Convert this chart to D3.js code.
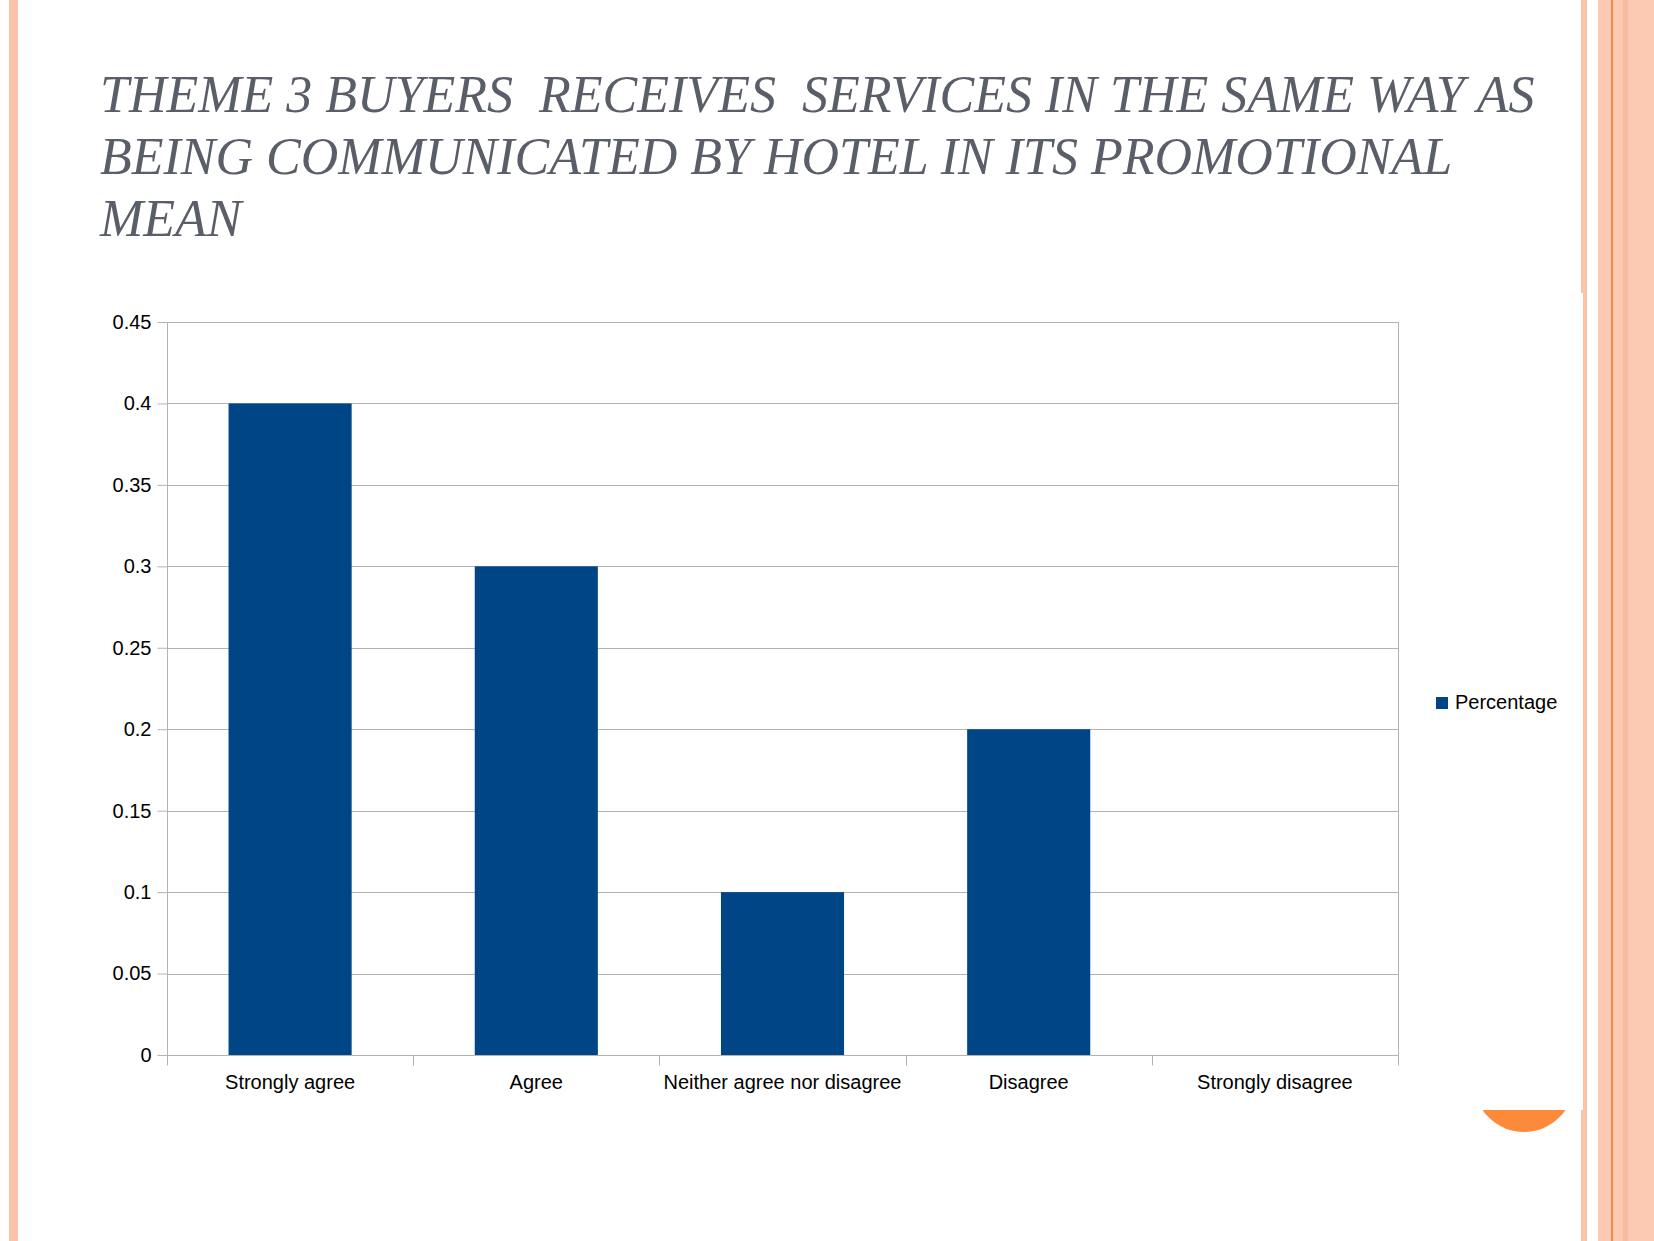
<!DOCTYPE html>
<html>
<head>
<meta charset="utf-8">
<script src="https://cdn.jsdelivr.net/npm/d3@7"></script>
<style>
  body { margin: 0; background: #fff; }
  svg { display: block; }
</style>
</head>
<body>
<div id="chart"></div>
<script>
// Chart data
const CATEGORIES = ["Strongly agree", "Agree", "Neither agree nor disagree", "Disagree", "Strongly disagree"];
const PERCENTAGE = [0.4, 0.3, 0.1, 0.2, 0];
const Y_TICKS = [0, 0.05, 0.1, 0.15, 0.2, 0.25, 0.3, 0.35, 0.4, 0.45];
const SERIES_NAME = "Percentage";
const TITLE_LINES = [
  "THEME 3 BUYERS  RECEIVES  SERVICES IN THE SAME WAY AS",
  "BEING COMMUNICATED BY HOTEL IN ITS PROMOTIONAL",
  "MEAN"
];

// Frame size and plot area
const FRAME_WIDTH = 1654;
const FRAME_HEIGHT = 1241;
const PLOT = {left: 167, right: 1398, top: 322, bottom: 1055};

const BAR_COLOR = "#004586";
const GRID_COLOR = "#b3b3b3";

const svg = d3.select("#chart")
  .append("svg")
    .attr("width", FRAME_WIDTH)
    .attr("height", FRAME_HEIGHT);

// slide decoration: stripes on both sides
svg.append("rect").attr("x", 9).attr("y", 0).attr("width", 9).attr("height", FRAME_HEIGHT).attr("fill", "#fbc3aa");
svg.append("rect").attr("x", 1581).attr("y", 0).attr("width", 6).attr("height", FRAME_HEIGHT).attr("fill", "#fbc3aa");
svg.append("rect").attr("x", 1598).attr("y", 0).attr("width", 56).attr("height", FRAME_HEIGHT).attr("fill", "#fccab3");
svg.append("rect").attr("x", 1623).attr("y", 0).attr("width", 5).attr("height", FRAME_HEIGHT).attr("fill", "#f9bb9d");
svg.append("rect").attr("x", 1611).attr("y", 0).attr("width", 2).attr("height", FRAME_HEIGHT).attr("fill", "#f58a45");

// orange circle, partly hidden behind the chart panel
svg.append("circle").attr("cx", 1524).attr("cy", 1082).attr("r", 50).attr("fill", "#fd8a3a");

// white chart panel
svg.append("rect").attr("x", 30).attr("y", 293).attr("width", 1553).attr("height", 817).attr("fill", "#fff");

// title
svg.append("text")
    .attr("x", 100)
    .attr("y", 112)
    .attr("font-family", "'Liberation Serif', 'Times New Roman', serif")
    .attr("font-style", "italic")
    .attr("font-size", 52)
    .attr("fill", "#5a5e68")
    .style("white-space", "pre")
  .selectAll("tspan")
  .data(TITLE_LINES)
  .enter()
  .append("tspan")
    .attr("x", 100)
    .attr("dy", (d, i) => i === 0 ? 0 : 62)
    .text(d => d);

// scales
const xScale = d3.scaleBand().domain(CATEGORIES).range([PLOT.left, PLOT.right]).paddingInner(0).paddingOuter(0);
const yScale = d3.scaleLinear().domain([0, 0.45]).range([PLOT.bottom, PLOT.top]);

const g = svg.append("g")
  .attr("font-family", "'Liberation Sans', Arial, sans-serif");

// horizontal gridlines
g.selectAll(".grid")
  .data(Y_TICKS)
  .enter()
  .append("line")
    .attr("class", "grid")
    .attr("x1", PLOT.left)
    .attr("x2", PLOT.right)
    .attr("y1", d => Math.round(yScale(d)) + 0.5)
    .attr("y2", d => Math.round(yScale(d)) + 0.5)
    .attr("stroke", GRID_COLOR)
    .attr("stroke-width", 1);

// bars (drawn before axes so the baseline stays on top)
const barWidth = xScale.bandwidth() * 0.5;
g.selectAll(".bar")
  .data(PERCENTAGE)
  .enter()
  .append("rect")
    .attr("class", "bar")
    .attr("x", (d, i) => xScale(CATEGORIES[i]) + (xScale.bandwidth() - barWidth) / 2)
    .attr("y", d => yScale(d))
    .attr("width", barWidth)
    .attr("height", d => PLOT.bottom - yScale(d))
    .attr("fill", BAR_COLOR);

// y axis
const yAxis = g.append("g")
  .attr("transform", "translate(" + (PLOT.left + 0.5) + ",0)")
  .call(d3.axisLeft(yScale).tickValues(Y_TICKS).tickSize(10).tickPadding(6).tickFormat(d => String(+d.toFixed(2))));
yAxis.select(".domain").attr("stroke", GRID_COLOR).attr("d", "M0," + PLOT.top + "V" + PLOT.bottom);
yAxis.selectAll(".tick line").attr("stroke", GRID_COLOR);
yAxis.selectAll(".tick text").attr("font-size", 20).attr("fill", "#000").attr("font-family", "'Liberation Sans', Arial, sans-serif");

// right border of plot
g.append("line")
  .attr("x1", PLOT.right + 0.5).attr("x2", PLOT.right + 0.5)
  .attr("y1", PLOT.top).attr("y2", PLOT.bottom)
  .attr("stroke", GRID_COLOR);

// x axis: ticks at band boundaries
const xAxis = g.append("g")
  .attr("transform", "translate(0," + (Math.round(PLOT.bottom) + 0.5) + ")");
xAxis.append("line")
  .attr("x1", PLOT.left).attr("x2", PLOT.right + 0.5)
  .attr("stroke", GRID_COLOR);
const boundaries = CATEGORIES.map(c => xScale(c)).concat([PLOT.right]);
xAxis.selectAll(".xtick")
  .data(boundaries)
  .enter()
  .append("line")
    .attr("class", "xtick")
    .attr("x1", d => Math.round(d) + 0.5)
    .attr("x2", d => Math.round(d) + 0.5)
    .attr("y1", 0)
    .attr("y2", 10)
    .attr("stroke", GRID_COLOR);
xAxis.selectAll(".xlabel")
  .data(CATEGORIES)
  .enter()
  .append("text")
    .attr("class", "xlabel")
    .attr("x", d => xScale(d) + xScale.bandwidth() / 2)
    .attr("y", 33)
    .attr("text-anchor", "middle")
    .attr("font-size", 20)
    .attr("fill", "#000")
    .text(d => d);

// legend
const legend = g.append("g").attr("transform", "translate(1436,697)");
legend.append("rect").attr("width", 12).attr("height", 12).attr("fill", BAR_COLOR);
legend.append("text")
  .attr("x", 19)
  .attr("y", 12)
  .attr("font-size", 20)
  .attr("fill", "#000")
  .text(SERIES_NAME);
</script>
</body>
</html>
